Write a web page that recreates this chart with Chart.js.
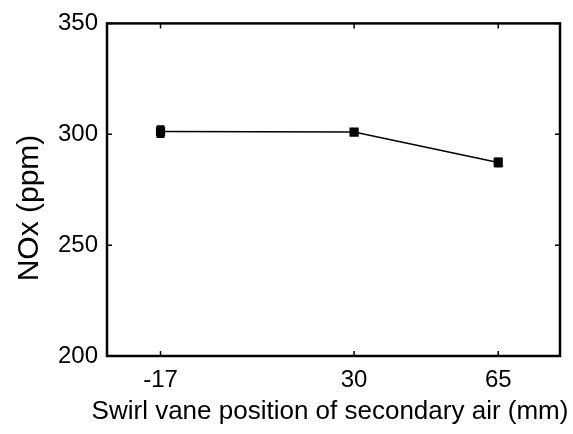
<!DOCTYPE html>
<html>
<head>
<meta charset="utf-8">
<script src="https://cdn.jsdelivr.net/npm/chart.js@4/dist/chart.umd.min.js"></script>
<style>
  html, body { margin: 0; padding: 0; background: #fff; }
  #wrap { width: 573px; height: 434px; }
</style>
</head>
<body>
<div id="wrap"><canvas id="noxChart"></canvas></div>
<script>
// datos
const vanePositions = [-17, 30, 65];
const noxValues = [301.2, 301.0, 287.3];
const noxErrors = [2.4, 1.0, 1.8];
const xTickValues = [-17, 30, 65];
const yTickValues = [200, 250, 300, 350];
const xTitle = 'Swirl vane position of secondary air (mm)';
const yTitle = 'NOx (ppm)';

const fontFamily = '"Liberation Sans", Arial, sans-serif';

// marco, ticks hacia dentro y titulos de ejes
const framePlugin = {
    id: 'frame',
    afterDraw(chart) {
        const { ctx, chartArea: a, scales } = chart;
        ctx.save();
        ctx.strokeStyle = '#000';
        ctx.lineWidth = 1.5;
        const tl = 5;
        ctx.beginPath();
        xTickValues.forEach(v => {
            const px = scales.x.getPixelForValue(v);
            ctx.moveTo(px, a.bottom); ctx.lineTo(px, a.bottom - tl);
            ctx.moveTo(px, a.top); ctx.lineTo(px, a.top + tl);
        });
        yTickValues.forEach(v => {
            const py = scales.y.getPixelForValue(v);
            ctx.moveTo(a.left, py); ctx.lineTo(a.left + tl, py);
            ctx.moveTo(a.right, py); ctx.lineTo(a.right - tl, py);
        });
        ctx.stroke();
        ctx.lineWidth = 2.5;
        ctx.strokeRect(a.left, a.top, a.right - a.left, a.bottom - a.top);

        ctx.fillStyle = '#000';
        ctx.textAlign = 'center';
        ctx.textBaseline = 'middle';

        // titulo del eje x (mas ancho que el area del grafico)
        ctx.font = '26px ' + fontFamily;
        ctx.fillText(xTitle, 330, 412);

        // titulo del eje y (un poco por debajo del centro, como en el original)
        ctx.translate(30, 208);
        ctx.rotate(-Math.PI / 2);
        ctx.font = '30px ' + fontFamily;
        ctx.fillText(yTitle, 0, 0);
        ctx.restore();
    }
};

// barras de error
const errorBarPlugin = {
    id: 'errorBars',
    afterDatasetsDraw(chart) {
        const { ctx, scales } = chart;
        ctx.save();
        ctx.strokeStyle = '#000';
        ctx.lineWidth = 2;
        vanePositions.forEach((v, i) => {
            const px = scales.x.getPixelForValue(v);
            const yHi = scales.y.getPixelForValue(noxValues[i] + noxErrors[i]);
            const yLo = scales.y.getPixelForValue(noxValues[i] - noxErrors[i]);
            ctx.beginPath();
            ctx.moveTo(px, yHi); ctx.lineTo(px, yLo);
            ctx.moveTo(px - 4, yHi); ctx.lineTo(px + 4, yHi);
            ctx.moveTo(px - 4, yLo); ctx.lineTo(px + 4, yLo);
            ctx.stroke();
        });
        ctx.restore();
    }
};

const ctxNox = document.getElementById('noxChart').getContext('2d');
new Chart(ctxNox, {
    type: 'line',
    data: {
        datasets: [{
            data: vanePositions.map((v, i) => ({ x: v, y: noxValues[i] })),
            borderColor: '#000',
            backgroundColor: '#000',
            borderWidth: 1.5,
            pointStyle: 'rect',
            pointRadius: 6.5,
            pointBorderWidth: 0,
            pointBackgroundColor: '#000',
            tension: 0
        }]
    },
    options: {
        responsive: true,
        maintainAspectRatio: false,
        animation: false,
        layout: { padding: { top: 17, right: 13, left: 0, bottom: 0 } },
        plugins: {
            legend: { display: false },
            tooltip: { enabled: false }
        },
        scales: {
            x: {
                type: 'linear',
                min: -30,
                max: 80,
                afterBuildTicks: axis => { axis.ticks = xTickValues.map(v => ({ value: v })); },
                afterFit: axis => { axis.height = 78; },
                grid: { display: false, drawTicks: false },
                border: { display: false },
                ticks: {
                    color: '#000',
                    padding: 10,
                    font: { family: fontFamily, size: 24 }
                }
            },
            y: {
                min: 200,
                max: 350,
                afterBuildTicks: axis => { axis.ticks = yTickValues.map(v => ({ value: v })); },
                afterFit: axis => { axis.width = 107; },
                grid: { display: false, drawTicks: false },
                border: { display: false },
                ticks: {
                    color: '#000',
                    padding: 9,
                    font: { family: fontFamily, size: 24 }
                }
            }
        }
    },
    plugins: [errorBarPlugin, framePlugin]
});
</script>
</body>
</html>
